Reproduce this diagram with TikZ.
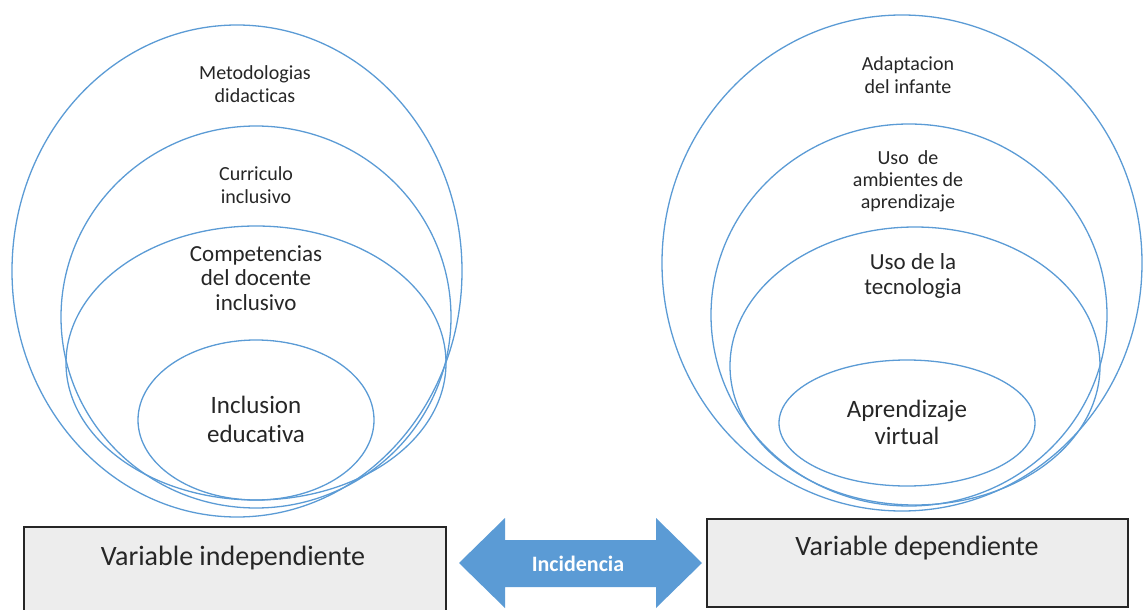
\documentclass[tikz,border=0pt]{standalone}
\usepackage{fontspec}
\setmainfont{Carlito}[Ligatures=NoCommon]
\definecolor{ringblue}{HTML}{5B9BD5}
\definecolor{boxgray}{HTML}{EDEDED}
\tikzset{
  ring/.style={draw=ringblue, line width=1.3pt},
  lbl/.style={align=center, text=black!85, inner sep=0pt},
  varbox/.style={draw=black!85, fill=boxgray, line width=1.5pt, inner sep=0pt}
}

\begin{document}
\begin{tikzpicture}[x=1pt,y=-1pt]
        \useasboundingbox (0,0) rectangle (1144,610);
        % left rings
        \draw[ring] (237,271) ellipse (225 and 246);
        \draw[ring] (256,317) ellipse (195 and 191);
        \draw[ring] (256,363) ellipse (190 and 137);
        \draw[ring] (256,420) ellipse (118 and 80);
        % right rings
        \draw[ring] (902,263) ellipse (240 and 248);
        \draw[ring] (909,315) ellipse (198 and 191);
        \draw[ring] (915,366) ellipse (185 and 139);
        \draw[ring] (907,423) ellipse (128 and 63);
        % labels, left
        \node[lbl, font=\fontsize{20}{23}\selectfont] (metod) at (255,84) {Metodologias\\didacticas};
        \node[lbl, font=\fontsize{20}{23}\selectfont] (curric) at (256,185) {Curriculo\\inclusivo};
        \node[lbl, font=\fontsize{23}{24.5}\selectfont] (compet) at (256,278) {Competencias\\del docente\\inclusivo};
        \node[lbl, font=\fontsize{25}{29}\selectfont] (inclus) at (256,419) {Inclusion\\educativa};
        % labels, right
        \node[lbl, font=\fontsize{20}{23}\selectfont] (adapt) at (908,75) {Adaptacion\\del infante};
        \node[lbl, font=\fontsize{20}{22}\selectfont] (ambien) at (908,181) {Uso~~de\\ambientes de\\aprendizaje};
        \node[lbl, font=\fontsize{23}{25}\selectfont] (tecno) at (913,276) {Uso de la\\tecnologia};
        \node[lbl, font=\fontsize{25}{27}\selectfont] (aprend) at (907,422) {Aprendizaje\\virtual};
        % variables
        \node[varbox, minimum width=422, minimum height=100] (vi) at (235,577) {};
        \node[varbox, minimum width=421, minimum height=88] (vd) at (917.5,563) {};
        \node[lbl, font=\fontsize{28}{32}\selectfont] (vitxt) at (233,558) {Variable independiente};
        \node[lbl, font=\fontsize{28}{32}\selectfont] (vdtxt) at (917,548) {Variable dependiente};
        % arrow
        \fill[ringblue] (459,563) -- (505,518) -- (505,540) -- (656,540) -- (656,518) -- (702,563)
              -- (656,608) -- (656,587) -- (505,587) -- (505,608) -- cycle;
        \node[lbl, text=white, font=\bfseries\fontsize{22}{24}\selectfont] (incid) at (578,564) {Incidencia};
\end{tikzpicture}
\end{document}
